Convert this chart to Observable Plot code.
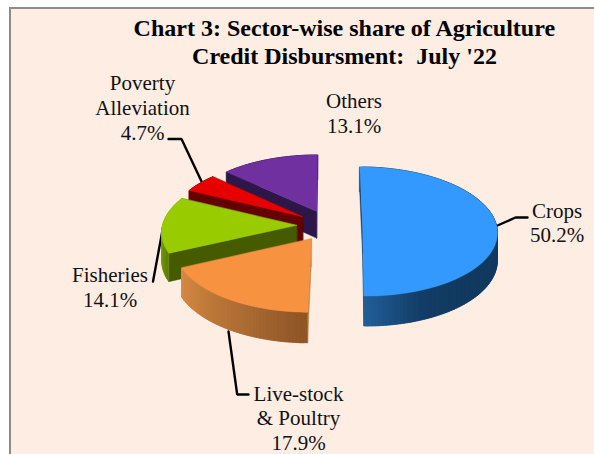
<!DOCTYPE html>
<html>
<head>
<meta charset="utf-8">
<script src="https://cdn.jsdelivr.net/npm/d3@7"></script>
<script src="https://cdn.jsdelivr.net/npm/@observablehq/plot@0.6"></script>
<style>
html,body{margin:0;padding:0;background:#fff;width:594px;height:454px;overflow:hidden}
#panel{position:absolute;left:9px;top:7px;width:583px;height:445px;background:#FDEDE3;border-left:2px solid #8C8C8C;border-top:2px solid #8C8C8C}
#chart{position:absolute;left:0;top:0}
svg{display:block}
</style>
</head>
<body>
<div id="panel"></div>
<div id="chart"></div>
<script>
// Data
const categories = ["Crops", "Live-stock\n& Poultry", "Fisheries", "Poverty\nAlleviation", "Others"];
const shares = [50.2, 17.9, 14.1, 4.7, 13.1];
const titleLines = ["Chart 3: Sector-wise share of Agriculture", "Credit Disbursment:  July '22"];

// Styles
const topColors = ["#3399FF", "#F69240", "#99CC00", "#E60000", "#7030A0"];
const cutColors = ["#123A60", "#C98A4A", "#465A00", "#640000", "#2C1748"];
const wallStops = [
  ["#123A60", "#123A60", "#123A60", "#133D66", "#215E99"],
  ["#8F5526", "#A96A33", "#C07B3A", "#D98A45"],
  ["#5F8000", "#8AB800"],
  ["#640000", "#640000"],
  ["#2C1748", "#2C1748"]
];

// Layout of the exploded perspective pie
const cx = 329, cy = 225, vanishY = -478, R = 134, explode = 33, tilt = 0.091, depth = 27.3;
const drawOrder = [4, 3, 2, 1, 0];
const project = (px, py, down = 0) => {
  const s = 1 / (1 - tilt * py / R);
  return {x: cx + px * s, y: vanishY + (cy - vanishY) * s + down * s, py};
};

const arcs = d3.pie().sort(null).value(d => d)(shares);
const polygons = [];
drawOrder.forEach(i => {
  const a = arcs[i], mid = (a.startAngle + a.endAngle) / 2;
  const ox = explode * Math.sin(mid), oy = -explode * Math.cos(mid);
  const n = Math.max(8, Math.round((a.endAngle - a.startAngle) * 40));
  const rim = d3.range(n + 1).map(k => {
    const t = a.startAngle + (a.endAngle - a.startAngle) * k / n;
    return {px: ox + R * Math.sin(t), py: oy - R * Math.cos(t), t};
  });
  const apex = {px: ox, py: oy};
  const colorAt = d3.scaleLinear()
    .domain(d3.range(wallStops[i].length).map(k => k / (wallStops[i].length - 1)))
    .range(wallStops[i]).interpolate(d3.interpolateRgb);
  const sides = [];
  const quad = (p, q, color) => ({
    key: (p.py + q.py) / 2, color,
    pts: [project(p.px, p.py), project(q.px, q.py), project(q.px, q.py, depth), project(p.px, p.py, depth)]
  });
  sides.push(quad(apex, rim[0], cutColors[i]));
  sides.push(quad(apex, rim[n], cutColors[i]));
  // wall colour only runs over the front-facing stretch of each slice
  const frontStart = Math.max(a.startAngle, Math.PI / 2), frontEnd = Math.min(a.endAngle, 3 * Math.PI / 2);
  d3.range(n).forEach(k => {
    const m = (rim[k].t + rim[k + 1].t) / 2;
    const f = frontEnd > frontStart ? Math.min(1, Math.max(0, (m - frontStart) / (frontEnd - frontStart))) : 0;
    // each wall facet overlaps the next so no seams show through
    sides.push(quad(rim[k], rim[Math.min(k + 2, n)], colorAt(f)));
  });
  sides.sort((u, v) => u.key - v.key);
  sides.forEach((s, j) => polygons.push({id: `${i}-side-${j}`, color: s.color, pts: s.pts}));
  polygons.push({id: `${i}-top`, color: topColors[i], pts: [apex, ...rim].map(p => project(p.px, p.py))});
});
const faces = polygons.flatMap(p => p.pts.map(q => ({id: p.id, color: p.color, x: q.x, y: q.y})));

// Labels and leader lines (y is the baseline of the last line)
const labelLayout = [
  {x: 556.5, y: 241.7, i: 0},
  {x: 298, y: 449.5, i: 1},
  {x: 109.5, y: 306, i: 2},
  {x: 142, y: 139, i: 3},
  {x: 353.5, y: 132, i: 4}
];
const pct = i => `${shares[i].toFixed(1)}%`;
const labelRows = labelLayout.map(d => ({x: d.x, y: d.y, text: `${categories[d.i]}\n${pct(d.i)}`}));
const leaders = [
  {id: "crops", pts: [[497, 225], [515, 217], [527, 217]]},
  {id: "live", pts: [[228, 331], [236.7, 394], [248, 394]]},
  {id: "fish", pts: [[152.5, 281], [163, 224.5]]},
  {id: "pov", pts: [[168, 138.5], [181, 138.5], [202, 183]]}
].flatMap(l => l.pts.map(([x, y]) => ({id: l.id, x, y})));

const plot = Plot.plot({
  width: 594, height: 454,
  marginTop: 0, marginRight: 0, marginBottom: 0, marginLeft: 0,
  style: {background: "transparent"},
  x: {domain: [0, 594], range: [0, 594], axis: null},
  y: {domain: [0, 454], range: [0, 454], axis: null},
  color: {type: "identity"},
  marks: [
    Plot.line(leaders, {x: "x", y: "y", z: "id", stroke: "#000", strokeWidth: 2.4, curve: "linear", strokeLinejoin: "miter"}),
    Plot.line(faces, {x: "x", y: "y", z: "id", fill: "color", stroke: "color", strokeWidth: 0.5, curve: "linear-closed"}),
    Plot.text(titleLines, {
      x: [343.8, 344], y: [35.8, 63.8], text: d => d, lineAnchor: "bottom",
      fontFamily: "Liberation Serif", fontWeight: "bold", fontSize: 24, fill: "#000", textAnchor: "middle"
    }),
    Plot.text(labelRows, {
      x: "x", y: "y", text: "text", lineHeight: 1.17, lineAnchor: "bottom",
      fontFamily: "Liberation Serif", fontSize: 21, fill: "#111", textAnchor: "middle"
    })
  ]
});
document.getElementById("chart").appendChild(plot);
</script>
</body>
</html>
